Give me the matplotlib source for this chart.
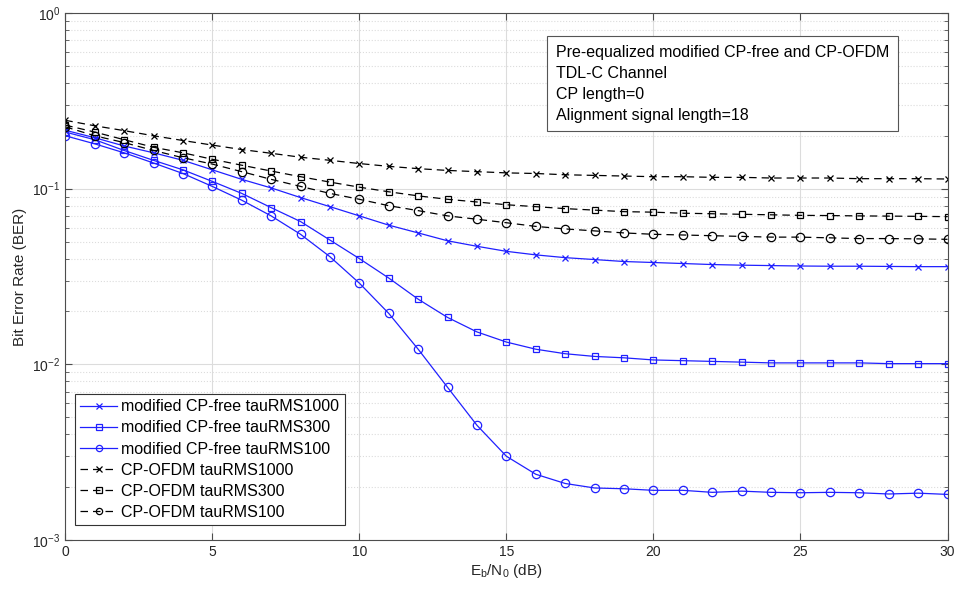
import numpy as np
import matplotlib.pyplot as plt
from matplotlib.ticker import LogLocator, NullFormatter

plt.rcParams['font.family'] = ['Liberation Sans', 'DejaVu Sans']

# Eb/N0 points (dB)
snr = list(range(0, 31))

# modified CP-free (blue, solid)
cpfree_1000 = [0.215, 0.195, 0.175, 0.16, 0.145, 0.128, 0.113, 0.101, 0.089, 0.079,
               0.070, 0.062, 0.056, 0.0505, 0.047, 0.044, 0.042, 0.0405, 0.0395, 0.0385,
               0.038, 0.0375, 0.037, 0.0367, 0.0365, 0.0363, 0.0362, 0.0362, 0.0361, 0.036, 0.036]
cpfree_300 = [0.21, 0.19, 0.165, 0.145, 0.128, 0.11, 0.094, 0.078, 0.065, 0.051,
              0.040, 0.031, 0.0235, 0.0185, 0.0153, 0.0134, 0.0122, 0.0115, 0.0111, 0.0109,
              0.0106, 0.0105, 0.0104, 0.0103, 0.0102, 0.0102, 0.0102, 0.0102, 0.0101, 0.0101, 0.0101]
cpfree_100 = [0.2, 0.18, 0.16, 0.14, 0.122, 0.103, 0.086, 0.07, 0.055, 0.041,
              0.029, 0.0195, 0.0122, 0.0074, 0.0045, 0.0030, 0.00237, 0.0021, 0.00198, 0.00196,
              0.00192, 0.00192, 0.00187, 0.0019, 0.00187, 0.00186, 0.00187, 0.00186, 0.00183, 0.00185, 0.00182]

# CP-OFDM (black, dashed)
ofdm_1000 = [0.245, 0.228, 0.214, 0.2, 0.188, 0.177, 0.167, 0.159, 0.151, 0.145,
             0.139, 0.134, 0.13, 0.127, 0.125, 0.123, 0.122, 0.12, 0.119, 0.118,
             0.117, 0.117, 0.116, 0.116, 0.115, 0.115, 0.115, 0.114, 0.114, 0.114, 0.1135]
ofdm_300 = [0.23, 0.21, 0.19, 0.172, 0.16, 0.147, 0.136, 0.126, 0.117, 0.109,
            0.102, 0.096, 0.091, 0.087, 0.084, 0.081, 0.079, 0.077, 0.0755, 0.074,
            0.0735, 0.0725, 0.072, 0.0715, 0.071, 0.0705, 0.0703, 0.07, 0.0698, 0.0696, 0.0693]
ofdm_100 = [0.225, 0.2, 0.183, 0.165, 0.15, 0.138, 0.125, 0.113, 0.103, 0.094,
            0.087, 0.08, 0.075, 0.07, 0.067, 0.064, 0.061, 0.059, 0.0575, 0.056,
            0.055, 0.0545, 0.054, 0.0535, 0.053, 0.053, 0.0525, 0.052, 0.052, 0.0518, 0.0515]

fig = plt.figure(figsize=(9.6, 5.89), dpi=100)
ax = fig.add_axes([0.068, 0.083, 0.919, 0.895])

blue = '#2020ff'
ax.semilogy(snr, cpfree_1000, '-x', color=blue, lw=0.9, ms=5, mew=0.9, label='modified CP-free tauRMS1000')
ax.semilogy(snr, cpfree_300, '-s', color=blue, lw=0.9, ms=5, mew=0.9, mfc='none', label='modified CP-free tauRMS300')
ax.semilogy(snr, cpfree_100, '-o', color=blue, lw=0.9, ms=6, mew=0.9, mfc='none', label='modified CP-free tauRMS100')
ax.semilogy(snr, ofdm_1000, '--x', color='black', lw=0.9, ms=5, mew=0.9, dashes=(6, 4), label='CP-OFDM tauRMS1000')
ax.semilogy(snr, ofdm_300, '--s', color='black', lw=0.9, ms=5, mew=0.9, mfc='none', dashes=(6, 4), label='CP-OFDM tauRMS300')
ax.semilogy(snr, ofdm_100, '--o', color='black', lw=0.9, ms=6, mew=0.9, mfc='none', dashes=(6, 4), label='CP-OFDM tauRMS100')

ax.set_xlim(0, 30)
ax.set_ylim(1e-3, 1)
ax.set_xticks([0, 5, 10, 15, 20, 25, 30])
ax.yaxis.set_major_locator(LogLocator(base=10, numticks=10))
ax.yaxis.set_minor_locator(LogLocator(base=10, subs=np.arange(2, 10), numticks=20))
ax.yaxis.set_minor_formatter(NullFormatter())

ax.grid(True, which='major', color='#dcdcdc', lw=0.8, ls='-')
ax.grid(True, which='minor', axis='y', color='#dcdcdc', lw=0.8, ls=':')
ax.set_axisbelow(True)

for s in ax.spines.values():
    s.set_color('#4d4d4d')
    s.set_linewidth(0.8)
ax.tick_params(which='both', direction='in', top=True, right=True, colors='#4d4d4d',
               labelcolor='#262626', labelsize=10)
ax.tick_params(which='major', length=5)
ax.tick_params(which='minor', length=3)

ax.set_xlabel(r'E$_\mathregular{b}$/N$_\mathregular{0}$ (dB)', fontsize=11, color='#262626', labelpad=2)
ax.set_ylabel('Bit Error Rate (BER)', fontsize=11, color='#262626', labelpad=4)

leg = ax.legend(loc='lower left', bbox_to_anchor=(0.007, 0.022), fontsize=11.5, numpoints=1,
                markerscale=0.75, handlelength=2.3, handletextpad=0.25, labelspacing=0.38,
                borderpad=0.35, borderaxespad=0.2, fancybox=False, framealpha=1, edgecolor='#333333')
leg.get_frame().set_linewidth(0.8)

ax.text(0.556, 0.94,
        'Pre-equalized modified CP-free and CP-OFDM\nTDL-C Channel\nCP length=0\nAlignment signal length=18',
        transform=ax.transAxes, fontsize=11.5, va='top', ha='left', linespacing=1.5,
        bbox=dict(boxstyle='square,pad=0.55', fc='white', ec='#555555', lw=0.8))

fig.savefig('out.png', dpi=100)
